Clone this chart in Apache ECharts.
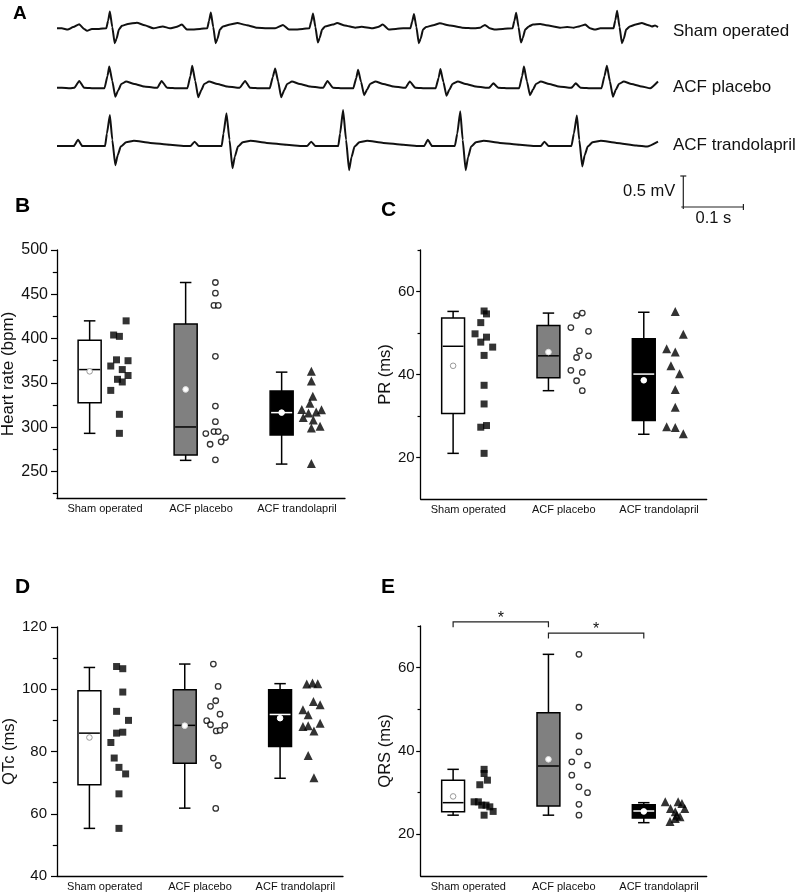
<!DOCTYPE html>
<html>
<head>
<meta charset="utf-8">
<script src="https://cdn.jsdelivr.net/npm/echarts@6/dist/echarts.min.js"></script>
<style>
html, body { margin: 0; padding: 0; background: #fff; }
#chart { width: 809px; height: 894px; }
</style>
</head>
<body>
<div id="chart"></div>
<script>
var groups = ['Sham operated', 'ACF placebo', 'ACF trandolapril'];
var traceNames = ['Sham operated', 'ACF placebo', 'ACF trandolapril'];

// ECG traces, [time ms, mV]
var ecgSham = [[0,0],[8,0],[18,-0.02],[27,0.02],[37,0.065],[45,-0.01],[50,-0.04],[58,-0.01],[70,-0.01],
  [82,0],[85,0.12],[88,0.27],[92,0.02],[96,-0.24],[99,-0.17],[103,-0.02],[108,0.04],[118,0.07],[133,0.09],[146,0.05],[160,0],[176,0.03],[188,0],[198,0.02],[208,0.06],[216,-0.02],[226,-0.02],[238,-0.01],
  [250,0],[253,0.12],[256,0.255],[260,0.02],[264,-0.24],[267,-0.17],[271,-0.02],[276,0.03],[288,0.06],[300,0.085],[316,0.05],[333,0.01],[349,0],[363,0],[376,0.055],[386,-0.02],[398,-0.02],[409,-0.01],
  [420,0],[423,0.11],[426,0.24],[430,0.02],[434,-0.23],[437,-0.16],[441,-0.02],[446,0.03],[459,0.06],[466,0.085],[479,0.045],[496,0.01],[507,0.025],[524,0],[534,0.02],[542,0.06],[552,-0.02],[564,-0.01],[576,0],
  [588,0],[591,0.11],[594,0.23],[598,0.02],[602,-0.24],[605,-0.17],[609,-0.02],[614,0.02],[626,0.05],[637,0.08],[654,0.045],[674,0.01],[695,0],[704,0.01],[712,0.055],[720,0],[729,-0.02],[742,-0.01],
  [758,0],[761,0.12],[764,0.25],[768,0.02],[772,-0.23],[775,-0.16],[779,-0.02],[785,0.03],[792,0.06],[804,0.07],[812,0.055],[824,0.035],[837,0.01],[849,0.02],[860,0.01],[870,0.035],[879,0.06],[887,0],[895,-0.02],[904,0],
  [926,0],[929,0.13],[932,0.285],[936,0.02],[940,-0.24],[943,-0.17],[947,-0.02],[953,0.03],[963,0.06],[973,0.085],[983,0.055],[990,0.03],[995,0.045],[1000,0.02]];

var ecgPlacebo = [[0,0],[8,0],[22,-0.01],
  [29,0],[37,0.11],[45,0],[64,-0.01],[79,-0.01],[84,0.19],[87,0.34],[92,0.11],[97,-0.145],[102,-0.04],[107,0.06],[115,0.10],[129,0.06],[145,0.02],[162,0],
  [167,0],[174,0.11],[183,0],[202,-0.01],[217,-0.01],[222,0.19],[225,0.355],[230,0.11],[235,-0.155],[240,-0.04],[245,0.06],[253,0.10],[267,0.06],[283,0.02],[300,0],
  [304,0],[313,0.11],[321,0],[339,-0.01],[354,-0.01],[359,0.17],[363,0.31],[368,0.1],[373,-0.155],[378,-0.04],[383,0.06],[391,0.10],[404,0.06],[421,0.02],[438,0],
  [443,0],[450,0.11],[459,0],[478,-0.01],[493,-0.01],[498,0.16],[501,0.29],[506,0.09],[511,-0.12],[516,-0.03],[521,0.06],[530,0.10],[543,0.06],[560,0.02],[576,0],
  [580,0],[587,0.10],[596,0],[615,-0.01],[630,-0.01],[635,0.16],[638,0.30],[643,0.09],[648,-0.13],[653,-0.03],[658,0.06],[667,0.10],[680,0.06],[697,0.02],[713,0],
  [719,0],[726,0.07],[734,0],[754,-0.01],[769,-0.01],[774,0.19],[777,0.34],[782,0.1],[787,-0.12],[792,-0.03],[797,0.06],[805,0.10],[819,0.06],[835,0.02],[852,0],
  [856,0],[863,0.07],[871,0],[891,-0.01],[906,-0.01],[911,0.19],[915,0.355],[920,0.1],[925,-0.145],[930,-0.03],[935,0.06],[943,0.10],[956,0.06],[973,0.02],[987,-0.01],[1000,0.10]];

var ecgTrando = [[0,0],[8,0],
  [28,0],[35,0.10],[42,0],[63,0],[80,0],[83,0.2],[88,0.50],[92,0.1],[97,-0.31],[101,-0.15],[106,-0.01],[115,0.06],[128,0.085],[155,0.05],[188,0.02],[215,0],
  [222,0],[229,0.07],[236,0],[257,0],[274,0],[277,0.2],[282,0.53],[287,0.1],[292,-0.36],[296,-0.17],[301,-0.01],[309,0.06],[322,0.085],[349,0.05],[382,0.02],[409,0],
  [416,0],[423,0.07],[430,0],[451,0],[468,0],[471,0.2],[476,0.58],[481,0.1],[486,-0.39],[490,-0.18],[495,-0.01],[503,0.06],[516,0.085],[543,0.05],[576,0.02],[603,0],
  [611,0],[617,0.10],[624,0],[646,0],[662,0],[666,0.2],[671,0.56],[675,0.1],[680,-0.39],[684,-0.18],[689,-0.01],[697,0.06],[710,0.085],[737,0.05],[770,0.02],[797,0],
  [805,0],[811,0.07],[818,0],[840,0],[856,0],[860,0.2],[865,0.49],[869,0.1],[874,-0.33],[878,-0.15],[883,-0.01],[891,0.06],[905,0.085],[931,0.05],[964,0.01],[982,-0.01],[1000,0.07]];

// scale bar: [ms, mV]
var scaleBar = [100, 0.5];
var scaleLabels = ['0.5 mV', '0.1 s'];

// box stats per group: [whisker low, Q1, median, Q3, whisker high, mean]
// B - heart rate
var hrTicks = [250, 300, 350, 400, 450, 500];
var hrMinor = [225, 275, 325, 375, 425, 475];
var hrBox = [[293, 327.6, 365, 398, 420, 363], [262.5, 268.5, 300.2, 416.4, 463.3, 342.6], [258.3, 291.2, 316.4, 340.7, 362.1, 316.4]];
var hrSham = [420, 404, 402.5, 376, 375, 369, 365, 354, 358.3, 351, 341.5, 314.5, 293];
var hrShamJit = [0.07, -0.06, 0, -0.03, 0.09, -0.09, 0.03, -0.02, 0.09, 0.03, -0.09, 0, 0];
var hrPlacebo = [463.3, 451.3, 437.4, 437.4, 380, 323.8, 306.2, 295, 295, 292.7, 288.2, 280.7, 283.4, 263.1];
var hrPlaceboJit = [0, 0, -0.015, 0.03, 0, 0, 0, -0.015, 0.03, -0.1, 0.105, -0.055, 0.06, 0];
var hrTrando = [363, 352, 335, 327, 320, 319.5, 316, 317, 311, 308, 301, 299, 259];
var hrTrandoJit = [0, 0, 0.015, -0.015, -0.1, 0.105, -0.03, 0.05, -0.085, 0.02, 0.09, 0, 0];

// C - PR
var prTicks = [20, 40, 60];
var prMinor = [30, 50, 70];
var prBox = [[21, 30.6, 46.8, 53.6, 55.2, 42.1], [36.1, 39.2, 44.5, 51.8, 54.8, 45.4], [25.6, 28.9, 40.1, 48.6, 55, 38.6]];
var prSham = [55.3, 54.6, 52.5, 49.8, 49, 47.8, 46.6, 44.6, 37.4, 32.9, 27.3, 27.7, 21];
var prShamJit = [0.015, 0.04, -0.02, -0.08, 0.04, -0.02, 0.105, 0.015, 0.015, 0.015, -0.02, 0.04, 0.015];
var prPlacebo = [54.8, 54.2, 51.3, 50.4, 45.7, 44.1, 44.5, 41, 40.5, 38.5, 36.1];
var prPlaceboJit = [0.045, -0.015, -0.075, 0.11, 0.015, -0.015, 0.11, -0.075, 0.045, -0.015, 0.045];
var prTrando = [55.2, 49.7, 46.2, 45.4, 42.1, 40.2, 36.4, 32.1, 27.4, 27.2, 25.7];
var prTrandoJit = [0.02, 0.105, -0.07, 0.02, -0.025, 0.065, 0.02, 0.02, -0.07, 0.02, 0.105];

// D - QTc
var qtTicks = [40, 60, 80, 100, 120];
var qtMinor = [50, 70, 90, 110];
var qtBox = [[55.3, 69.3, 85.9, 99.5, 107, 84.5], [61.8, 76.2, 88.4, 99.8, 108.1, 88.3], [71.4, 81.6, 91.9, 99.8, 101.8, 90.7]];
var qtSham = [107.3, 106.6, 99.1, 92.9, 90, 85.9, 86.2, 82.9, 77.9, 74.9, 72.8, 66.4, 55.3];
var qtShamJit = [-0.025, 0.04, 0.04, -0.025, 0.1, -0.025, 0.04, -0.085, -0.05, 0, 0.07, 0, 0];
var qtPlacebo = [108.1, 100.9, 96.3, 94.5, 92, 89.9, 88.6, 88.4, 86.6, 86.8, 77.9, 75.5, 61.7];
var qtPlaceboJit = [-0.01, 0.04, 0.015, -0.04, 0.06, -0.08, -0.04, 0.11, 0.02, 0.06, -0.01, 0.04, 0.015];
var qtTrando = [101.7, 102, 101.8, 96.1, 95, 93.4, 91.8, 88, 88.3, 89.1, 86.6, 78.7, 71.6];
var qtTrandoJit = [-0.03, 0.03, 0.085, 0.04, 0.11, -0.07, -0.015, -0.07, -0.015, 0.11, 0.045, -0.015, 0.045];

// E - QRS
var qrsTicks = [20, 40, 60];
var qrsMinor = [30, 50, 70];
var qrsBox = [[24.6, 25.4, 27.6, 33, 35.6, 29.1], [24.6, 26.8, 36.4, 49.2, 63.2, 38], [22.8, 23.9, 25.6, 27.1, 27.6, 25.5]];
var qrsSham = [35.6, 34.6, 33, 31.9, 27.8, 27.8, 27, 27, 26.6, 25.5, 24.6];
var qrsShamJit = [0.015, 0.015, 0.05, -0.03, -0.09, -0.045, -0.01, 0.035, 0.075, 0.11, 0.015];
var qrsPlacebo = [63.2, 50.5, 43.6, 39.8, 37.4, 36.6, 34.2, 31.4, 30, 27.2, 24.6];
var qrsPlaceboJit = [0.01, 0.01, 0.01, 0.01, -0.065, 0.1, -0.065, 0.01, 0.1, 0.01, 0.01];
var qrsTrando = [27.8, 27.8, 27.4, 26.2, 26.2, 25.4, 24.6, 24.2, 23.1, 23.8];
var qrsTrandoJit = [-0.085, 0.05, 0.09, -0.03, 0.12, 0.02, 0.035, 0.07, -0.035, 0.02];

// significance brackets in E: [group from, group to, bracket height]
var qrsSig = [[0, 1, 71.0], [1, 2, 68.3]];
var sigMark = '*';

var FONT = 'Arial, "Liberation Sans", Helvetica, sans-serif';
var BOX_POS = 0.34, SCAT_POS = 0.65, BOX_HALF = 0.12, CAP_HALF = 0.06;
var boxFill = ['#ffffff', '#808080', '#000000'];
var medianColor = ['#000', '#000', '#fff'];
var meanStroke = ['#999', '#ddd', '#fff'];

var chart = echarts.init(document.getElementById('chart'));

function pts(g, vals, jit) {
    var out = [];
    for (var i = 0; i < vals.length; i++) {
        out.push([g + SCAT_POS + jit[i], vals[i]]);
    }
    return out;
}

function boxItem(params, api) {
    var g = api.value(0);
    var cx = g + BOX_POS;
    var lo = api.coord([cx, api.value(1)]);
    var q1 = api.coord([cx, api.value(2)]);
    var md = api.coord([cx, api.value(3)]);
    var q3 = api.coord([cx, api.value(4)]);
    var hi = api.coord([cx, api.value(5)]);
    var mn = api.coord([cx, api.value(6)]);
    var hw = api.size([BOX_HALF, 0])[0];
    var cw = api.size([CAP_HALF, 0])[0];
    var x = lo[0];
    var st = { stroke: '#000', lineWidth: 1.5 };
    return {
        type: 'group',
        children: [
            { type: 'line', shape: { x1: x, y1: q3[1], x2: x, y2: hi[1] }, style: st },
            { type: 'line', shape: { x1: x - cw, y1: hi[1], x2: x + cw, y2: hi[1] }, style: st },
            { type: 'line', shape: { x1: x, y1: q1[1], x2: x, y2: lo[1] }, style: st },
            { type: 'line', shape: { x1: x - cw, y1: lo[1], x2: x + cw, y2: lo[1] }, style: st },
            { type: 'rect', shape: { x: x - hw, y: q3[1], width: hw * 2, height: q1[1] - q3[1] },
              style: { fill: boxFill[g], stroke: '#000', lineWidth: 1.5 } },
            { type: 'line', shape: { x1: x - hw + 1, y1: md[1], x2: x + hw - 1, y2: md[1] },
              style: { stroke: medianColor[g], lineWidth: 1.5 } },
            { type: 'circle', shape: { cx: x, cy: mn[1], r: 2.8 },
              style: { fill: '#fff', stroke: meanStroke[g], lineWidth: 1 } }
        ]
    };
}

var panels = [
    { name: 'Heart rate (bpm)', min: 220, max: 500, ticks: hrTicks, minor: hrMinor, box: hrBox,
      vals: [hrSham, hrPlacebo, hrTrando], jit: [hrShamJit, hrPlaceboJit, hrTrandoJit],
      grid: { left: 57, top: 250, width: 288, height: 248 }, labelSize: 16, margin: 9, tick: 6, gap: 40, nameSize: 17 },
    { name: 'PR (ms)', min: 10, max: 70, ticks: prTicks, minor: prMinor, box: prBox,
      vals: [prSham, prPlacebo, prTrando], jit: [prShamJit, prPlaceboJit, prTrandoJit],
      grid: { left: 420.7, top: 250, width: 286, height: 249 }, labelSize: 15, margin: 6, tick: 4.5, gap: 27, nameSize: 16.5 },
    { name: 'QTc (ms)', min: 40, max: 120, ticks: qtTicks, minor: qtMinor, box: qtBox,
      vals: [qtSham, qtPlacebo, qtTrando], jit: [qtShamJit, qtPlaceboJit, qtTrandoJit],
      grid: { left: 57, top: 627, width: 286, height: 249 }, labelSize: 15, margin: 10, tick: 6, gap: 39, nameSize: 16.5 },
    { name: 'QRS (ms)', min: 10, max: 70, ticks: qrsTicks, minor: qrsMinor, box: qrsBox,
      vals: [qrsSham, qrsPlacebo, qrsTrando], jit: [qrsShamJit, qrsPlaceboJit, qrsTrandoJit],
      grid: { left: 420.7, top: 626, width: 286, height: 250 }, labelSize: 15, margin: 6, tick: 4.5, gap: 26, nameSize: 16.5 }
];

var grids = [
    { left: 57, top: 3.5, width: 601, height: 86.8 },
    { left: 57, top: 56.7, width: 601, height: 93 },
    { left: 57, top: 102.6, width: 601, height: 105.4 },
    { left: 683.3, top: 176, width: 60.1, height: 31 }
];
var xAxes = [], yAxes = [], series = [];
var ecgData = [ecgSham, ecgPlacebo, ecgTrando];
var ecgMax = [0.4, 0.5, 0.7];

for (var i = 0; i < 3; i++) {
    xAxes.push({ type: 'value', gridIndex: i, min: 0, max: 1000, show: false });
    yAxes.push({ type: 'value', gridIndex: i, min: -1, max: ecgMax[i], show: false });
    series.push({
        name: traceNames[i], type: 'line', xAxisIndex: i, yAxisIndex: i,
        data: ecgData[i], showSymbol: false, smooth: 0.15, smoothMonotone: 'x', clip: false,
        lineStyle: { color: '#111', width: 2 }
    });
}
xAxes.push({ type: 'value', gridIndex: 3, min: 0, max: 100, show: false });
yAxes.push({ type: 'value', gridIndex: 3, min: 0, max: 0.5, show: false });
series.push({
    type: 'custom', xAxisIndex: 3, yAxisIndex: 3, clip: false,
    data: [scaleBar],
    renderItem: function (params, api) {
        var o = api.coord([0, 0]);
        var t = api.coord([0, api.value(1)]);
        var r = api.coord([api.value(0), 0]);
        var st = { stroke: '#222', lineWidth: 1.2 };
        return { type: 'group', children: [
            { type: 'line', shape: { x1: o[0], y1: o[1] + 2, x2: t[0], y2: t[1] }, style: st },
            { type: 'line', shape: { x1: t[0] - 3, y1: t[1], x2: t[0] + 3, y2: t[1] }, style: st },
            { type: 'line', shape: { x1: o[0] - 2, y1: o[1], x2: r[0], y2: r[1] }, style: st },
            { type: 'line', shape: { x1: r[0], y1: r[1] - 3, x2: r[0], y2: r[1] + 3 }, style: st },
            { type: 'text', style: { text: scaleLabels[0], x: o[0] - 8, y: (o[1] + t[1]) / 2, align: 'right',
              verticalAlign: 'middle', font: '16.5px ' + FONT, fill: '#111' } },
            { type: 'text', style: { text: scaleLabels[1], x: (o[0] + r[0]) / 2, y: o[1] + 11.5, align: 'center',
              verticalAlign: 'middle', font: '16.5px ' + FONT, fill: '#111' } }
        ] };
    }
});

panels.forEach(function (p, k) {
    var gi = 4 + k;
    grids.push(p.grid);
    xAxes.push({
        type: 'value', gridIndex: gi, min: 0, max: 3,
        axisLine: { show: true, lineStyle: { color: '#000', width: 1.3 } },
        axisTick: { show: false },
        splitLine: { show: false },
        axisLabel: {
            customValues: [0.5, 1.5, 2.5], margin: 5, color: '#111', fontSize: 11, fontFamily: FONT,
            formatter: function (v) { return groups[Math.floor(v)]; }
        }
    });
    yAxes.push({
        type: 'value', gridIndex: gi, min: p.min, max: p.max, position: 'left',
        name: p.name, nameLocation: 'middle', nameGap: p.gap,
        nameTextStyle: { color: '#111', fontSize: p.nameSize, fontFamily: FONT },
        axisLine: { show: true, lineStyle: { color: '#000', width: 1.3 } },
        axisTick: { show: true, customValues: p.ticks, length: p.tick, lineStyle: { color: '#000', width: 1.2 } },
        axisLabel: { customValues: p.ticks, margin: p.margin, color: '#111', fontSize: p.labelSize, fontFamily: FONT },
        splitLine: { show: false }
    });
    series.push({
        type: 'custom', xAxisIndex: gi, yAxisIndex: gi, renderItem: boxItem,
        data: p.box.map(function (b, g) { return [g].concat(b); })
    });
    series.push({
        type: 'scatter', xAxisIndex: gi, yAxisIndex: gi, symbol: 'rect', symbolSize: 7,
        itemStyle: { color: '#000' }, data: pts(0, p.vals[0], p.jit[0])
    });
    series.push({
        type: 'scatter', xAxisIndex: gi, yAxisIndex: gi, symbol: 'circle', symbolSize: 5.5,
        itemStyle: { color: '#fff', borderColor: '#000', borderWidth: 1.3 }, data: pts(1, p.vals[1], p.jit[1])
    });
    series.push({
        type: 'scatter', xAxisIndex: gi, yAxisIndex: gi, symbol: 'triangle', symbolSize: 9,
        itemStyle: { color: '#000' }, data: pts(2, p.vals[2], p.jit[2])
    });
});

// minor tick axes, laid over the main y axes
panels.forEach(function (p, k) {
    yAxes.push({
        type: 'value', gridIndex: 4 + k, min: p.min, max: p.max, position: 'left', offset: 0,
        axisLine: { show: false },
        axisLabel: { show: false },
        axisTick: { show: true, customValues: p.minor, length: p.tick * 0.7, lineStyle: { color: '#000', width: 1.2 } },
        splitLine: { show: false }
    });
});

series.push({
    type: 'custom', xAxisIndex: 7, yAxisIndex: 7, clip: false,
    data: qrsSig,
    renderItem: function (params, api) {
        var a = api.coord([api.value(0) + BOX_POS, api.value(2)]);
        var b = api.coord([api.value(1) + BOX_POS, api.value(2)]);
        return { type: 'group', children: [
            { type: 'polyline', shape: { points: [[a[0], a[1] + 5.5], [a[0], a[1]], [b[0], b[1]], [b[0], b[1] + 5.5]] },
              style: { stroke: '#222', lineWidth: 1.2, fill: null } },
            { type: 'text', style: { text: sigMark, x: (a[0] + b[0]) / 2, y: a[1] - 3, align: 'center',
              verticalAlign: 'middle', font: '16px ' + FONT, fill: '#111' } }
        ] };
    }
});

var graphics = [
    { type: 'text', left: 13, top: 4, style: { text: 'A', font: 'bold 19px ' + FONT, fill: '#000' } },
    { type: 'text', left: 15, top: 196, style: { text: 'B', font: 'bold 21px ' + FONT, fill: '#000' } },
    { type: 'text', left: 381, top: 200, style: { text: 'C', font: 'bold 21px ' + FONT, fill: '#000' } },
    { type: 'text', left: 15, top: 577, style: { text: 'D', font: 'bold 21px ' + FONT, fill: '#000' } },
    { type: 'text', left: 381, top: 577, style: { text: 'E', font: 'bold 21px ' + FONT, fill: '#000' } }
];
var labelY = [31.7, 87.7, 145];
for (var j = 0; j < 3; j++) {
    graphics.push({ type: 'text', x: 673, y: labelY[j],
        style: { text: traceNames[j], font: '17px ' + FONT, fill: '#111', verticalAlign: 'middle' } });
}

var option = {
    animation: false,
    textStyle: { fontFamily: FONT },
    grid: grids.map(function (g) { g.outerBoundsMode = 'none'; return g; }),
    xAxis: xAxes,
    yAxis: yAxes,
    series: series,
    graphic: graphics
};

if (option && typeof option === 'object') {
    chart.setOption(option, true);
}
</script>
</body>
</html>
